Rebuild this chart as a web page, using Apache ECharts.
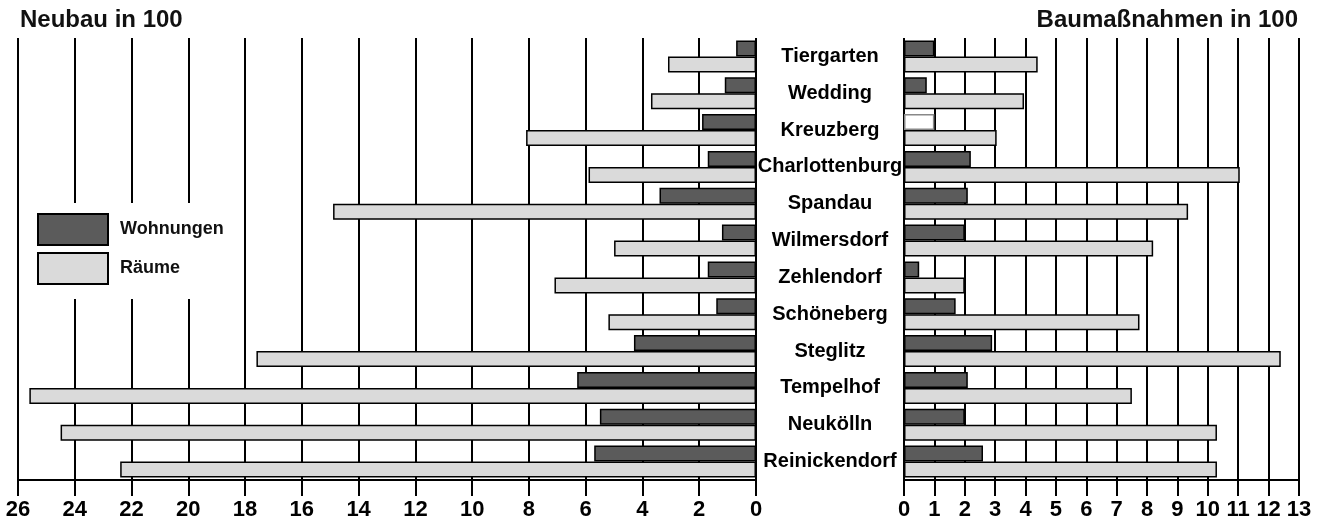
<!DOCTYPE html>
<html>
<head>
<meta charset="utf-8">
<script src="https://cdn.jsdelivr.net/npm/echarts@6/dist/echarts.min.js"></script>
<style>
  html, body { margin: 0; padding: 0; background: #fff; }
  #chart { width: 1324px; height: 524px; }
</style>
</head>
<body>
<div id="chart"></div>
<script>
// Bezirke, von oben nach unten
const bezirke = ['Tiergarten', 'Wedding', 'Kreuzberg', 'Charlottenburg', 'Spandau', 'Wilmersdorf',
  'Zehlendorf', 'Schöneberg', 'Steglitz', 'Tempelhof', 'Neukölln', 'Reinickendorf'];

// Neubau in 100 (linke Seite)
const neubauWohnungen = [0.7, 1.1, 1.9, 1.7, 3.4, 1.2, 1.7, 1.4, 4.3, 6.3, 5.5, 5.7];
const neubauRaeume = [3.1, 3.7, 8.1, 5.9, 14.9, 5.0, 7.1, 5.2, 17.6, 25.6, 24.5, 22.4];

// Baumaßnahmen in 100 (rechte Seite)
const massnWohnungen = [1.0, 0.75, 1.0, 2.2, 2.1, 2.0, 0.5, 1.7, 2.9, 2.1, 2.0, 2.6];
const massnRaeume = [4.4, 3.95, 3.05, 11.05, 9.35, 8.2, 2.0, 7.75, 12.4, 7.5, 10.3, 10.3];

const DARK = '#5b5b5b';
const LIGHT = '#dadada';
const FONT = 'Liberation Sans';

const chart = echarts.init(document.getElementById('chart'));

const xAxisBase = (grid, max, interval, inverse) => ({
  type: 'value',
  gridIndex: grid,
  min: 0,
  max: max,
  interval: interval,
  inverse: inverse,
  axisLine: { show: true, lineStyle: { color: '#000', width: 2 } },
  axisTick: { show: true, length: 16, lineStyle: { color: '#000', width: 2 } },
  axisLabel: { margin: 19, color: '#000', fontFamily: FONT, fontWeight: 'bold', fontSize: 22 },
  splitLine: { show: true, lineStyle: { color: '#000', width: 2 } }
});

const barSeries = (name, grid, data, color) => ({
  name: name,
  type: 'bar',
  xAxisIndex: grid,
  yAxisIndex: grid,
  barWidth: 16,
  barGap: '0%',
  data: data,
  itemStyle: { color: color, borderColor: '#000', borderWidth: 1.5 }
});

chart.setOption({
  animation: false,
  textStyle: { fontFamily: FONT },
  title: [
    { text: 'Neubau in 100', left: 15, top: 3,
      textStyle: { fontFamily: FONT, fontWeight: 'bold', fontSize: 24, color: '#111' } },
    { text: 'Baumaßnahmen in 100', right: 21, top: 3,
      textStyle: { fontFamily: FONT, fontWeight: 'bold', fontSize: 24, color: '#111' } }
  ],
  legend: {
    orient: 'vertical',
    left: 22,
    top: 203,
    padding: [10, 16, 14, 15],
    backgroundColor: '#fff',
    itemWidth: 70,
    itemHeight: 31,
    itemGap: 6,
    icon: 'rect',
    data: ['Wohnungen', 'Räume'],
    textStyle: { fontFamily: FONT, fontWeight: 'bold', fontSize: 18, color: '#111', padding: [0, 0, 0, 7] }
  },
  grid: [
    { left: 18, right: 568, top: 38, bottom: 44 },
    { left: 904, right: 25, top: 38, bottom: 44 }
  ],
  xAxis: [
    xAxisBase(0, 26, 2, true),
    xAxisBase(1, 13, 1, false)
  ],
  yAxis: [
    { type: 'category', gridIndex: 0, data: bezirke, inverse: true,
      axisLine: { show: false }, axisTick: { show: false }, axisLabel: { show: false } },
    { type: 'category', gridIndex: 1, data: bezirke, inverse: true, position: 'left',
      axisLine: { show: false }, axisTick: { show: false },
      axisLabel: { show: true, margin: 74, align: 'center', color: '#000',
        fontFamily: FONT, fontWeight: 'bold', fontSize: 20, padding: [0, 0, 8, 0] } }
  ],
  series: [
    barSeries('Wohnungen', 0, neubauWohnungen, DARK),
    barSeries('Räume', 0, neubauRaeume, LIGHT),
    barSeries('Wohnungen', 1, massnWohnungen.map((v, i) =>
      bezirke[i] === 'Kreuzberg' ? { value: v, itemStyle: { color: '#fff', borderColor: '#888' } } : v), DARK),
    barSeries('Räume', 1, massnRaeume, LIGHT)
  ]
});
</script>
</body>
</html>
